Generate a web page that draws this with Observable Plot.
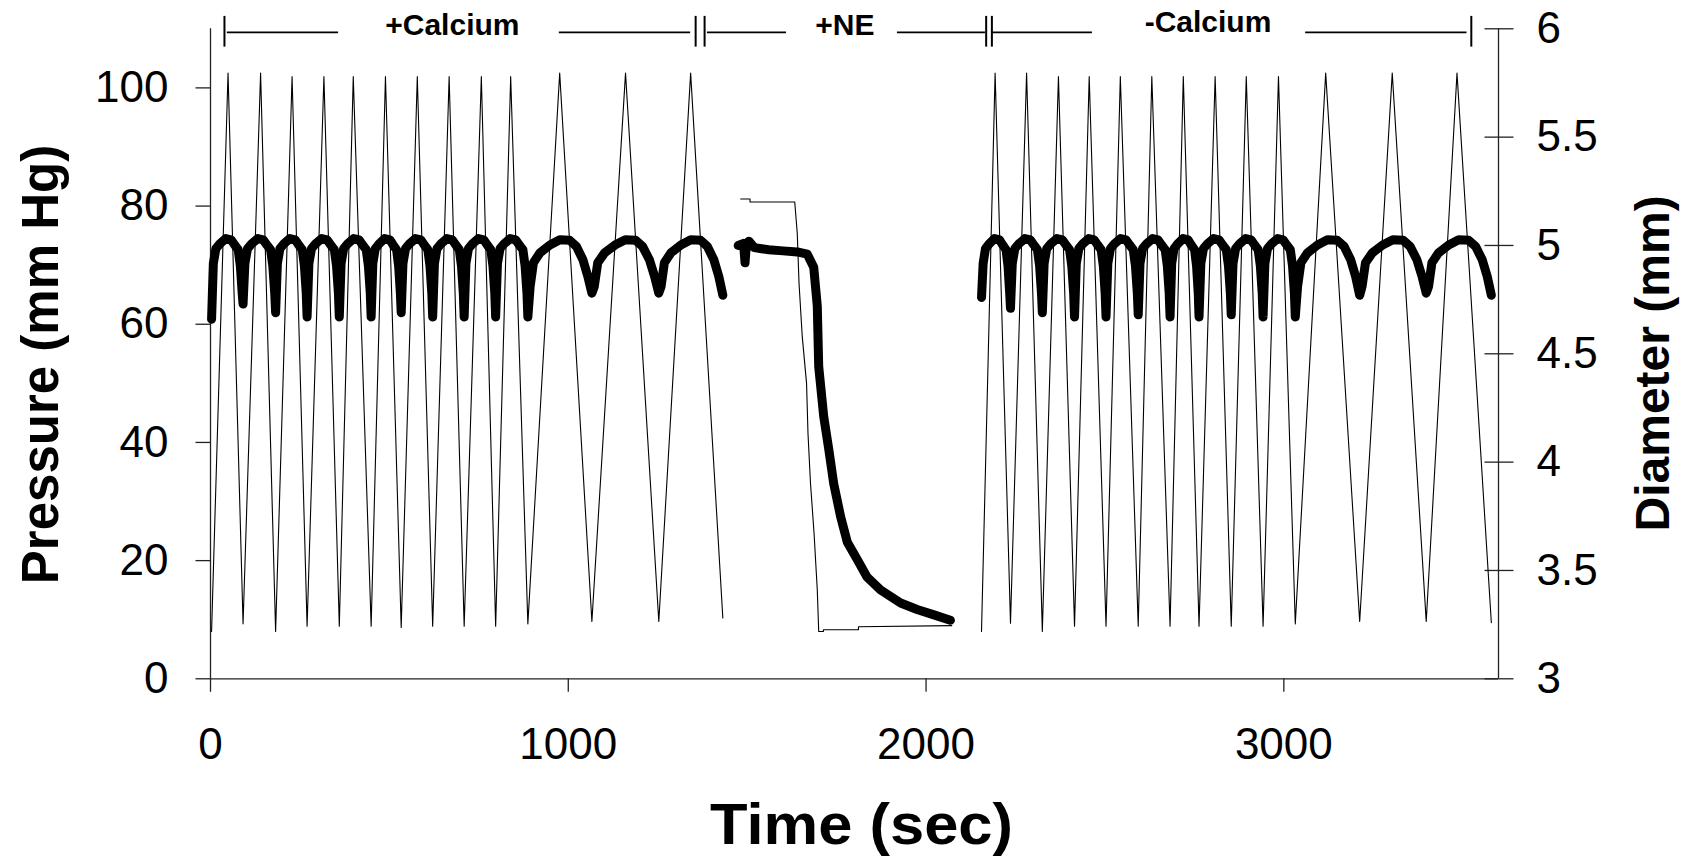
<!DOCTYPE html>
<html>
<head>
<meta charset="utf-8">
<script src="https://cdn.jsdelivr.net/npm/d3@7"></script>
<script src="https://cdn.jsdelivr.net/npm/@observablehq/plot@0.6"></script>
<style>
  html, body { margin: 0; padding: 0; background: #fff; }
  #chart svg { display: block; }
</style>
</head>
<body>
<div id="chart"></div>
<script>
// ---------- scales / ticks ----------
const xDomain = [0, 3600];              // Time (sec)
const yDomain = [0, 110];               // Pressure (mm Hg), left axis
const diameterDomain = [3, 6];          // Diameter (mm), right axis (same vertical span)
const pressureTicks = [0, 20, 40, 60, 80, 100];
const diameterTicks = [3, 3.5, 4, 4.5, 5, 5.5, 6];
const timeTicks = [0, 1000, 2000, 3000];

const xTitle = "Time (sec)";
const yTitleLeft = "Pressure (mm Hg)";
const yTitleRight = "Diameter (mm)";

// ---------- +Calcium segment ----------
const calTroughTimes    = [3, 91, 182, 270, 360, 449, 533, 621, 709, 797, 887, 1066, 1253, 1432];
const calTroughPressure = [8.0, 9.3, 8.0, 8.9, 8.9, 8.9, 8.7, 8.9, 8.9, 8.9, 9.3, 9.7, 9.7, 10.3];
const calPeakTimes      = [49, 140, 228, 317, 399, 489, 578, 667, 757, 839, 976, 1160, 1342];
const calPeakPressure   = [102.5, 102.5, 101.9, 101.9, 101.9, 101.9, 101.9, 101.9, 101.9, 101.9, 102.5, 102.5, 102.5];
const calDipDiameter    = [4.66, 4.73, 4.69, 4.67, 4.67, 4.67, 4.69, 4.67, 4.67, 4.67, 4.67, 4.78, 4.78, 4.77];

// ---------- -Calcium segment ----------
const noCalTroughTimes    = [2155, 2236, 2325, 2415, 2503, 2593, 2682, 2763, 2853, 2942, 3032, 3212, 3398, 3580];
const noCalTroughPressure = [8.0, 9.4, 8.0, 8.9, 8.9, 8.9, 8.9, 8.9, 8.9, 8.9, 9.3, 9.7, 9.7, 9.5];
const noCalPeakTimes      = [2193, 2281, 2370, 2456, 2543, 2631, 2719, 2808, 2895, 2985, 3117, 3303, 3484];
const noCalPeakPressure   = [102.5, 102.5, 101.9, 101.9, 101.9, 101.9, 101.9, 101.9, 101.9, 101.9, 102.5, 102.5, 102.5];
const noCalDipDiameter    = [4.76, 4.71, 4.69, 4.67, 4.67, 4.68, 4.67, 4.67, 4.68, 4.67, 4.67, 4.77, 4.78, 4.77];

// diameter shape between two dips, read from single cycles (fraction of cycle, mm)
const shortCycleFrac = [0.056, 0.136, 0.26, 0.452, 0.621, 0.734, 0.847, 0.915, 0.972];
const shortCycleDia  = [4.917, 4.985, 5.007, 5.032, 5.026, 5.002, 4.980, 4.904, 4.781];
const wideCycleFrac  = [0.036, 0.087, 0.19, 0.345, 0.499, 0.652, 0.757, 0.86, 0.937];
const wideCycleDia   = [4.811, 4.920, 4.966, 5.002, 5.026, 5.024, 4.996, 4.934, 4.857];

// ---------- +NE segment ----------
const nePressureTimes  = [1482, 1508, 1508, 1633, 1640, 1645, 1654, 1666, 1670, 1677, 1687, 1696, 1700, 1713, 1713, 1811, 1811, 2072];
const nePressureValues = [81.2, 81.2, 80.7, 80.7, 75.4, 66.9, 57.9, 50.0, 41.5, 33.1, 24.6, 15.0, 8.0, 8.0, 8.3, 8.3, 8.8, 9.0];
const neDiameterTimes  = [1475, 1490, 1494, 1498, 1505, 1520, 1560, 1600, 1640, 1668, 1686, 1696, 1700, 1714, 1728, 1742, 1761, 1780, 1808, 1835, 1873, 1929, 1975, 2022, 2068];
const neDiameterValues = [5.00, 5.01, 4.92, 5.01, 5.02, 4.99, 4.98, 4.975, 4.97, 4.96, 4.90, 4.72, 4.44, 4.21, 4.06, 3.90, 3.75, 3.63, 3.55, 3.47, 3.41, 3.35, 3.32, 3.295, 3.27];

// ---------- treatment annotations (top) ----------
const annotationLabels = ["+Calcium", "+NE", "-Calcium"];
const annotationX      = [676, 1773, 2788];
const annotationY      = [108.9, 109.0, 109.5];
const bracketStart     = [47, 975, 1389, 1920, 2184, 3061];
const bracketEnd       = [358, 1342, 1610, 2166, 2465, 3512];
const bracketBars      = [39, 1356, 1381, 2168, 2184, 3524];
const bracketLevel     = 109.4;
const bracketBarRange  = [106.9, 112.1];

// ---------- build rows ----------
const toP = d => yDomain[0] + (d - diameterDomain[0]) / (diameterDomain[1] - diameterDomain[0]) * (yDomain[1] - yDomain[0]);
const fromP = p => diameterDomain[0] + (p - yDomain[0]) / (yDomain[1] - yDomain[0]) * (diameterDomain[1] - diameterDomain[0]);

function pressureTrace(troughT, troughP, peakT, peakP, seg) {
  const rows = [];
  troughT.forEach((t, i) => {
    rows.push({t, p: troughP[i], seg});
    if (i < peakT.length) rows.push({t: peakT[i], p: peakP[i], seg});
  });
  return rows;
}
function diameterTrace(dipT, dipD, seg) {
  const rows = [];
  for (let i = 0; i < dipT.length - 1; i++) {
    const t0 = dipT[i], span = dipT[i + 1] - t0;
    const wide = span > 130;
    const fr = wide ? wideCycleFrac : shortCycleFrac;
    const dv = wide ? wideCycleDia : shortCycleDia;
    rows.push({t: t0, d: dipD[i], seg});
    fr.forEach((f, j) => rows.push({t: t0 + f * span, d: dv[j], seg}));
  }
  rows.push({t: dipT[dipT.length - 1], d: dipD[dipD.length - 1], seg});
  return rows;
}

const pressureRows = [
  ...pressureTrace(calTroughTimes, calTroughPressure, calPeakTimes, calPeakPressure, "cal"),
  ...nePressureTimes.map((t, i) => ({t, p: nePressureValues[i], seg: "ne"})),
  ...pressureTrace(noCalTroughTimes, noCalTroughPressure, noCalPeakTimes, noCalPeakPressure, "nocal")
];
const diameterRows = [
  ...diameterTrace(calTroughTimes, calDipDiameter, "cal"),
  ...neDiameterTimes.map((t, i) => ({t, d: neDiameterValues[i], seg: "ne"})),
  ...diameterTrace(noCalTroughTimes, noCalDipDiameter, "nocal")
];

const ink = "#000";
const chart = Plot.plot({
  width: 1690,
  height: 857,
  marginTop: 28.3,
  marginBottom: 178.7,
  marginLeft: 210,
  marginRight: 192,
  x: {domain: xDomain},
  y: {domain: yDomain},
  style: "font-family: 'Liberation Sans', Arial, Helvetica, sans-serif; font-size: 44px; color: #000; background: #fff; overflow: visible;",
  marks: [
    // axis lines
    Plot.ruleX([xDomain[0], xDomain[1]], {stroke: "#222", strokeWidth: 1.3}),
    Plot.ruleY([yDomain[0]], {stroke: "#222", strokeWidth: 1.3}),
    // axes
    Plot.axisY(pressureTicks, {anchor: "left", tickSize: 14.5, tickPadding: 27.5, label: null, stroke: "#222", strokeWidth: 1.3}),
    Plot.axisY(diameterTicks.map(toP), {anchor: "right", tickSize: 29, dx: -14.5, tickFormat: () => "", label: null, stroke: "#222", strokeWidth: 1.3}),
    Plot.axisY(diameterTicks.map(toP), {anchor: "right", tickSize: 0, tickPadding: 38, tickFormat: p => String(Math.round(fromP(p) * 10) / 10), label: null}),
    Plot.axisX(timeTicks, {anchor: "bottom", tickSize: 13.5, tickPadding: 35, tickFormat: d => String(d), label: null, stroke: "#222", strokeWidth: 1.3}),
    // pressure (thin) and diameter (thick)
    Plot.line(pressureRows, {x: "t", y: "p", z: "seg", stroke: ink, strokeWidth: 1.1}),
    Plot.line(diameterRows, {x: "t", y: d => toP(d.d), z: "seg", stroke: ink, strokeWidth: 9, strokeLinejoin: "round", strokeLinecap: "round"}),
    // treatment brackets
    Plot.ruleY(bracketStart, {y: () => bracketLevel, x1: d => d, x2: (d, i) => bracketEnd[i], stroke: ink, strokeWidth: 1.6}),
    Plot.ruleX(bracketBars, {x: d => d, y1: () => bracketBarRange[0], y2: () => bracketBarRange[1], stroke: ink, strokeWidth: 2}),
    Plot.text(annotationLabels, {x: (d, i) => annotationX[i], y: (d, i) => annotationY[i], text: d => d, fontSize: 30, fontWeight: "bold", lineAnchor: "bottom", fill: ink}),
    // axis titles
    Plot.text([xTitle], {frameAnchor: "bottom", text: d => d, textAnchor: "middle", dx: 7, dy: 165, lineAnchor: "bottom", fontSize: 57, fontWeight: "bold", fill: ink}),
    Plot.text([yTitleLeft], {frameAnchor: "left", text: d => d, textAnchor: "middle", rotate: -90, dx: -152.5, dy: 10.7, lineAnchor: "bottom", fontSize: 51, fontWeight: "bold", fill: ink}),
    Plot.text([yTitleRight], {frameAnchor: "right", text: d => d, textAnchor: "middle", rotate: -90, dx: 170.5, dy: 9.6, lineAnchor: "bottom", fontSize: 48, fontWeight: "bold", fill: ink})
  ]
});
// the reference's title lettering is slightly wider than Liberation Sans Bold
for (const t of chart.querySelectorAll("text")) {
  if (t.textContent === xTitle) {
    t.setAttribute("textLength", 303);
    t.setAttribute("lengthAdjust", "spacingAndGlyphs");
  }
}
document.getElementById("chart").appendChild(chart);
</script>
</body>
</html>
